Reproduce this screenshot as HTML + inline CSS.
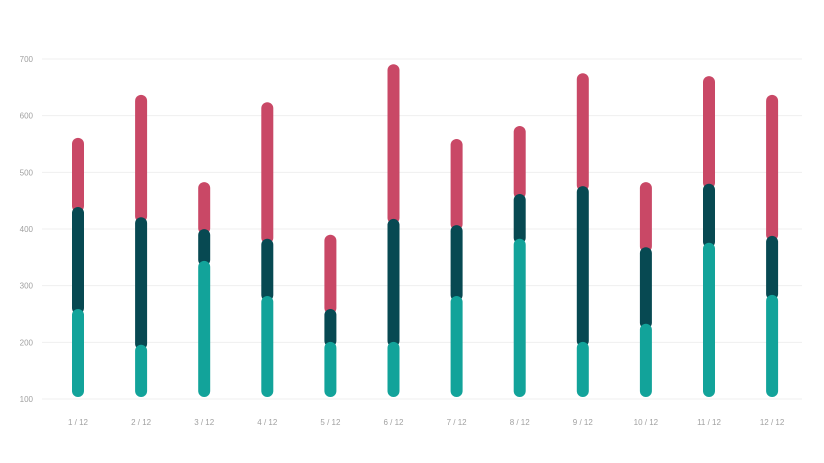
<!DOCTYPE html>
<html><head><meta charset="utf-8"><style>
body{margin:0;background:#fff;font-family:"Liberation Sans",sans-serif}
svg text{font-family:"Liberation Sans",sans-serif;font-size:8px;fill:#a0a0a0}
</style></head><body>
<svg id="chart" width="824" height="458" xmlns="http://www.w3.org/2000/svg">
<g id="grid"></g>
<g id="bars"></g>
<g id="xlabels"></g>
</svg>
<script>
const categories=["1 / 12","2 / 12","3 / 12","4 / 12","5 / 12","6 / 12","7 / 12","8 / 12","9 / 12","10 / 12","11 / 12","12 / 12"];
const tealTop=[257,194,342,280,199,199,280,381,199,231,374,282];
const darkTop=[437,419,398,381,257,416,405,460,474,366,478,386];
const redTop=[559,635,481,622,388,689,557,580,673,481,668,635];
const yTicks=[100,200,300,400,500,600,700];
const base=100;
const NS="http://www.w3.org/2000/svg";
function y(v){return 399-(v-100)*340/600;}
function x(i){return 78+i*63.1;}
function mk(t,a,p){const e=document.createElementNS(NS,t);for(const k in a)e.setAttribute(k,a[k]);p.appendChild(e);return e;}
const grid=document.getElementById('grid'),bars=document.getElementById('bars'),xl=document.getElementById('xlabels');
yTicks.forEach(v=>{
  const l=mk('line',{x1:42,x2:802,y1:y(v),y2:y(v),stroke:'#efefef','stroke-width':1},grid);
  
  
  const t=mk('text',{x:33,y:y(v)+3,'text-anchor':'end'},grid);t.textContent=v;
  
  
});
const series=[[null,tealTop,'#12a39a','teal'],[tealTop,darkTop,'#074952','dark'],[darkTop,redTop,'#c94866','red']];
categories.forEach((c,i)=>{
  for(let s=series.length-1;s>=0;s--){
    const [lo,hi,col,nm]=series[s];
    const v0=lo?lo[i]:base, v1=hi[i];
    const top=y(v1)-1, bot=y(v0)+(s===0?-2:4);
    const r=mk('rect',{x:x(i)-6,y:top,width:12,height:Math.max(0,bot-top),rx:6,fill:col},bars);
    
    
  }
  const t=mk('text',{x:x(i),y:425,'text-anchor':'middle'},xl);t.textContent=c;
  
  
});
</script>
</body></html>
